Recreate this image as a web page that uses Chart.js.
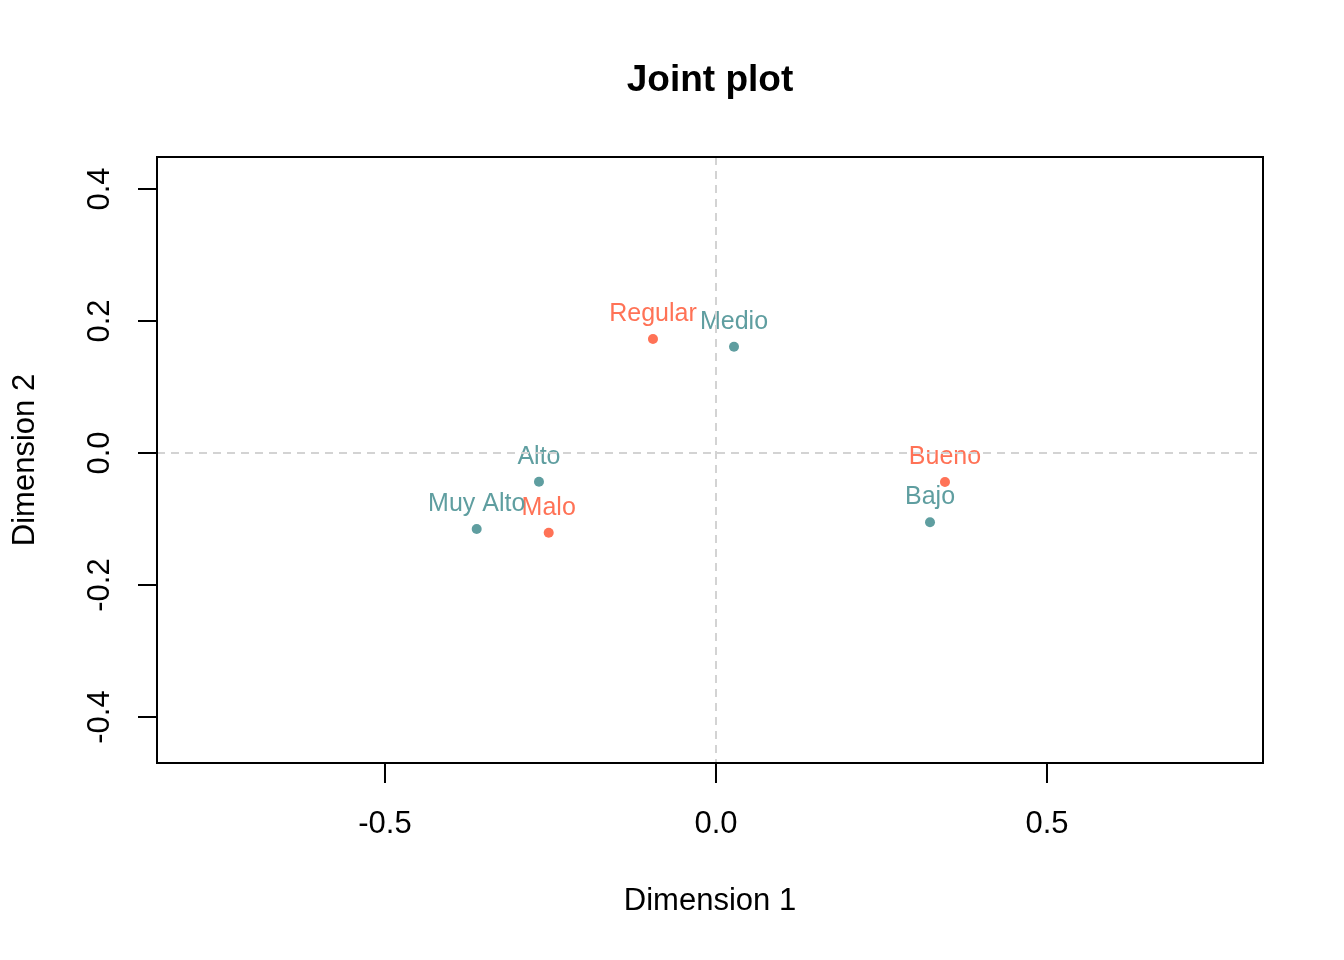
<!DOCTYPE html>
<html>
<head>
<meta charset="utf-8">
<title>Joint plot</title>
<script src="https://cdn.jsdelivr.net/npm/chart.js@4"></script>
<style>
  html, body { margin: 0; padding: 0; background: #fff; }
  #wrap { width: 1344px; height: 960px; }
</style>
</head>
<body>
<div id="wrap"><canvas id="jointPlot" width="1344" height="960"></canvas></div>
<script>
// Row categories (coral) and column categories (teal)
const rowNames = ['Bueno', 'Malo', 'Regular'];
const rowDim1 = [0.3459, -0.2527, -0.0952];
const rowDim2 = [-0.0439, -0.1208, 0.1727];

const colNames = ['Alto', 'Bajo', 'Medio', 'Muy Alto'];
const colDim1 = [-0.2674, 0.3233, 0.0272, -0.3615];
const colDim2 = [-0.0435, -0.1050, 0.1611, -0.1152];

const xTicks = [-0.5, 0.0, 0.5];
const yTicks = [-0.4, -0.2, 0.0, 0.2, 0.4];

const ROW_COLOR = '#FF7256';
const COL_COLOR = '#5F9EA0';
const FONT = '"Liberation Sans", Arial, sans-serif';

function toPoints(xs, ys) {
    return xs.map((x, i) => ({ x: x, y: ys[i] }));
}

// Draws everything R's base graphics would add around the points
const rAxesPlugin = {
    id: 'rAxes',
    beforeDraw(chart) {
        const ctx = chart.ctx;
        ctx.save();
        ctx.fillStyle = '#fff';
        ctx.fillRect(0, 0, chart.width, chart.height);
        ctx.restore();
    },
    afterDatasetsDraw(chart) {
        const ctx = chart.ctx;
        const area = chart.chartArea;
        const xs = chart.scales.x;
        const ys = chart.scales.y;

        ctx.save();
        // point labels, above each point
        ctx.font = '25px ' + FONT;
        ctx.textAlign = 'center';
        ctx.textBaseline = 'alphabetic';
        chart.data.datasets.forEach(ds => {
            ctx.fillStyle = ds.pointBackgroundColor;
            ds.data.forEach((p, i) => {
                ctx.fillText(ds.names[i], xs.getPixelForValue(p.x), ys.getPixelForValue(p.y) - 18);
            });
        });

        // dashed reference lines at zero
        ctx.strokeStyle = '#D3D3D3';
        ctx.lineWidth = 2;
        ctx.setLineDash([8, 6]);
        const x0 = xs.getPixelForValue(0);
        const y0 = ys.getPixelForValue(0);
        ctx.beginPath();
        ctx.moveTo(area.left, y0);
        ctx.lineTo(area.right, y0);
        ctx.moveTo(x0, area.top);
        ctx.lineTo(x0, area.bottom);
        ctx.stroke();
        ctx.setLineDash([]);

        // box
        ctx.strokeStyle = '#000';
        ctx.lineWidth = 2;
        ctx.strokeRect(area.left, area.top, area.right - area.left, area.bottom - area.top);

        // x axis ticks + labels
        ctx.fillStyle = '#000';
        ctx.font = '31px ' + FONT;
        ctx.textAlign = 'center';
        ctx.textBaseline = 'middle';
        ctx.beginPath();
        xTicks.forEach(t => {
            const px = xs.getPixelForValue(t);
            ctx.moveTo(px, area.bottom);
            ctx.lineTo(px, area.bottom + 20);
            ctx.fillText(t.toFixed(1), px, 824);
        });
        // y axis ticks
        yTicks.forEach(t => {
            const py = ys.getPixelForValue(t);
            ctx.moveTo(area.left, py);
            ctx.lineTo(area.left - 19, py);
        });
        ctx.stroke();
        // y tick labels, rotated like R's las = 0
        yTicks.forEach(t => {
            const py = ys.getPixelForValue(t);
            ctx.save();
            ctx.translate(100, py);
            ctx.rotate(-Math.PI / 2);
            ctx.fillText(t.toFixed(1), 0, 0);
            ctx.restore();
        });

        // axis titles
        const cx = (area.left + area.right) / 2;
        const cy = (area.top + area.bottom) / 2;
        ctx.fillText('Dimension 1', cx, 901);
        ctx.save();
        ctx.translate(25, cy);
        ctx.rotate(-Math.PI / 2);
        ctx.fillText('Dimension 2', 0, 0);
        ctx.restore();

        // main title
        ctx.font = 'bold 37px ' + FONT;
        ctx.fillText('Joint plot', cx, 81);
        ctx.restore();
    }
};

const ctx = document.getElementById('jointPlot').getContext('2d');
new Chart(ctx, {
    type: 'scatter',
    data: {
        datasets: [
            {
                label: 'Rows',
                names: rowNames,
                data: toPoints(rowDim1, rowDim2),
                pointBackgroundColor: ROW_COLOR,
                backgroundColor: ROW_COLOR,
                pointBorderWidth: 0,
                pointRadius: 5
            },
            {
                label: 'Columns',
                names: colNames,
                data: toPoints(colDim1, colDim2),
                pointBackgroundColor: COL_COLOR,
                backgroundColor: COL_COLOR,
                pointBorderWidth: 0,
                pointRadius: 5
            }
        ]
    },
    options: {
        responsive: false,
        animation: false,
        layout: {
            padding: { left: 157, top: 157, right: 81, bottom: 197 }
        },
        plugins: {
            legend: { display: false },
            tooltip: { enabled: false },
            title: { display: false }
        },
        scales: {
            x: { type: 'linear', min: -0.8444, max: 0.8263, display: false },
            y: { type: 'linear', min: -0.4697, max: 0.4485, display: false }
        }
    },
    plugins: [rAxesPlugin]
});
</script>
</body>
</html>
